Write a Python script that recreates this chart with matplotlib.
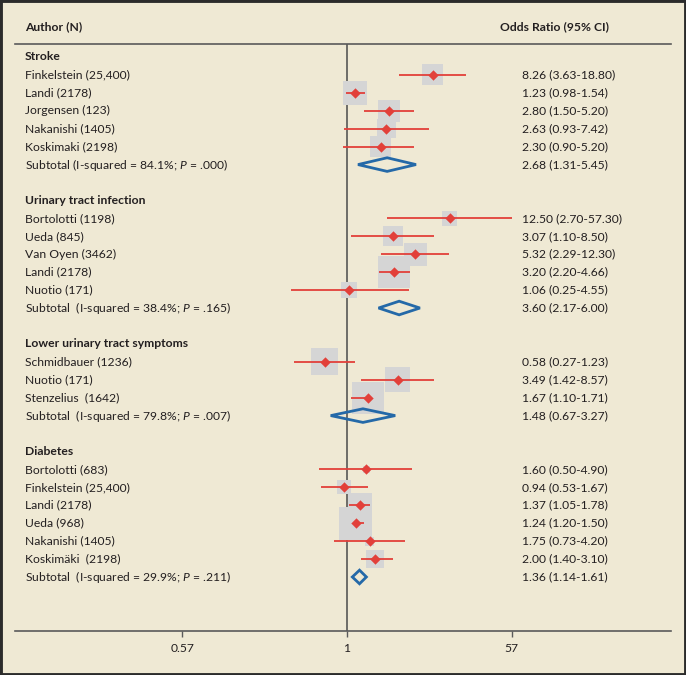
import numpy as np
import matplotlib.pyplot as plt
from matplotlib.patches import Rectangle
from matplotlib import font_manager

# fonts: narrow sans if available, else Lato
names = set(f.name for f in font_manager.fontManager.ttflist)
FONT = 'Liberation Sans Narrow' if 'Liberation Sans Narrow' in names else 'Lato'
plt.rcParams['font.family'] = [FONT, 'DejaVu Sans']
plt.rcParams['mathtext.fontset'] = 'custom'
plt.rcParams['mathtext.rm'] = FONT
plt.rcParams['mathtext.it'] = FONT + ':italic'

# data
groups = ['Stroke', 'Urinary tract infection', 'Lower urinary tract symptoms', 'Diabetes']
study_group = [0, 0, 0, 0, 0, 1, 1, 1, 1, 1, 2, 2, 2, 3, 3, 3, 3, 3, 3]
study_labels = ['Finkelstein (25,400)', 'Landi (2178)', 'Jorgensen (123)', 'Nakanishi (1405)',
                'Koskimaki (2198)',
                'Bortolotti (1198)', 'Ueda (845)', 'Van Oyen (3462)', 'Landi (2178)', 'Nuotio (171)',
                'Schmidbauer (1236)', 'Nuotio (171)', 'Stenzelius  (1642)',
                'Bortolotti (683)', 'Finkelstein (25,400)', 'Landi (2178)', 'Ueda (968)',
                'Nakanishi (1405)', 'Koskimäki  (2198)']
study_or = [8.26, 1.23, 2.80, 2.63, 2.30,
            12.50, 3.07, 5.32, 3.20, 1.06,
            0.58, 3.49, 1.67,
            1.60, 0.94, 1.37, 1.24, 1.75, 2.00]
study_lo = [3.63, 0.98, 1.50, 0.93, 0.90,
            2.70, 1.10, 2.29, 2.20, 0.25,
            0.27, 1.42, 1.10,
            0.50, 0.53, 1.05, 1.20, 0.73, 1.40]
study_hi = [18.80, 1.54, 5.20, 7.42, 5.20,
            57.30, 8.50, 12.30, 4.66, 4.55,
            1.23, 8.57, 1.71,
            4.90, 1.67, 1.78, 1.50, 4.20, 3.10]
study_weight = [21, 24, 22, 19, 21,
                15, 20, 23, 32, 16,
                27, 25, 32,
                7, 14, 24, 33, 9, 18]

subtotal_labels = ['Subtotal (I-squared = 84.1%; $P$ = .000)',
                   'Subtotal  (I-squared = 38.4%; $P$ = .165)',
                   'Subtotal  (I-squared = 79.8%; $P$ = .007)',
                   'Subtotal  (I-squared = 29.9%; $P$ = .211)']
subtotal_or = [2.68, 3.60, 1.48, 1.36]
subtotal_lo = [1.31, 2.17, 0.67, 1.14]
subtotal_hi = [5.45, 6.00, 3.27, 1.61]

tick_vals = [1 / 57, 1, 57]
tick_labels = ['0.57', '1', '57']

# style
BG = '#EFE9D4'
TXT = '#231F20'
RED = '#E2403A'
BOX = '#D5D5D5'
BLUE = '#2469A8'
FS = 8.7

W, H = 686, 675
fig = plt.figure(figsize=(W / 100, H / 100), dpi=100, facecolor=BG)
ax = fig.add_axes([15 / W, (H - 631) / H, (671 - 15) / W, (631 - 44) / H])
ax.set_facecolor(BG)

PX_LN = 40.7
ax.set_xscale('log')
ax.set_xlim(np.exp((15 - 347) / PX_LN), np.exp((671 - 347) / PX_LN))
ROW0, ROWH = 57, 17.93
ax.set_ylim((631 - ROW0) / ROWH, (44 - ROW0) / ROWH)

# row layout
study_y, sub_y, head_y = [], [], []
r = 0
for g in range(len(groups)):
    head_y.append(r)
    r += 1
    for i, sg in enumerate(study_group):
        if sg == g:
            study_y.append(r)
            r += 1
    sub_y.append(r)
    r += 2

tx = ax.get_yaxis_transform()
XL = (25 - 15) / 656
XR = (522 - 15) / 656

ax.axvline(1, color='#4a4a4a', lw=1.1, zorder=1)

# weight boxes
ax.scatter(study_or, study_y, s=(np.array(study_weight) * 0.72) ** 2, marker='s',
           color=BOX, lw=0, zorder=2)
ax.hlines(study_y, study_lo, study_hi, color=RED, lw=1.3, zorder=3)
ax.scatter(study_or, study_y, s=28, marker='D', color=RED, lw=0, zorder=4)

for yv, o, lo, hi in zip(sub_y, subtotal_or, subtotal_lo, subtotal_hi):
    ax.fill([lo, o, hi, o, lo], [yv, yv - 0.38, yv, yv + 0.38, yv],
            facecolor='none', edgecolor=BLUE, lw=2.0, zorder=4, joinstyle='miter')

# text
ax.text(XL, (27 - ROW0) / ROWH, 'Author (N)', transform=tx, ha='left', va='center',
        fontsize=FS, fontweight='bold', color=TXT, clip_on=False)
ax.text((500 - 15) / 656, (27 - ROW0) / ROWH, 'Odds Ratio (95% CI)', transform=tx,
        ha='left', va='center', fontsize=FS, fontweight='bold', color=TXT, clip_on=False)
for g, yv in zip(groups, head_y):
    ax.text(XL, yv, g, transform=tx, ha='left', va='center', fontsize=FS,
            fontweight='bold', color=TXT)
for lab, yv, o, lo, hi in zip(study_labels, study_y, study_or, study_lo, study_hi):
    ax.text(XL, yv, lab, transform=tx, ha='left', va='center', fontsize=FS, color=TXT)
    ax.text(XR, yv, f'{o:.2f} ({lo:.2f}-{hi:.2f})', transform=tx, ha='left',
            va='center', fontsize=FS, color=TXT)
for lab, yv, o, lo, hi in zip(subtotal_labels, sub_y, subtotal_or, subtotal_lo, subtotal_hi):
    ax.text(XL, yv, lab, transform=tx, ha='left', va='center', fontsize=FS, color=TXT)
    ax.text(XR, yv, f'{o:.2f} ({lo:.2f}-{hi:.2f})', transform=tx, ha='left',
            va='center', fontsize=FS, color=TXT)

# axes
for s in ['left', 'right']:
    ax.spines[s].set_visible(False)
ax.spines['top'].set_color('#5a5a5a')
ax.spines['bottom'].set_color('#5a5a5a')
ax.spines['top'].set_linewidth(1.2)
ax.spines['bottom'].set_linewidth(1.2)
ax.set_xticks(tick_vals)
ax.set_xticklabels(tick_labels)
ax.minorticks_off()
ax.set_yticks([])
ax.tick_params(axis='x', direction='out', length=4.5, width=1, color='#5a5a5a',
               labelsize=FS, labelcolor=TXT, pad=4)

fig.patches.append(Rectangle((0, 0), 1, 1, transform=fig.transFigure, fill=False,
                             edgecolor='#2b2b2b', lw=3.5))

fig.savefig('out.png', dpi=100, facecolor=BG)
